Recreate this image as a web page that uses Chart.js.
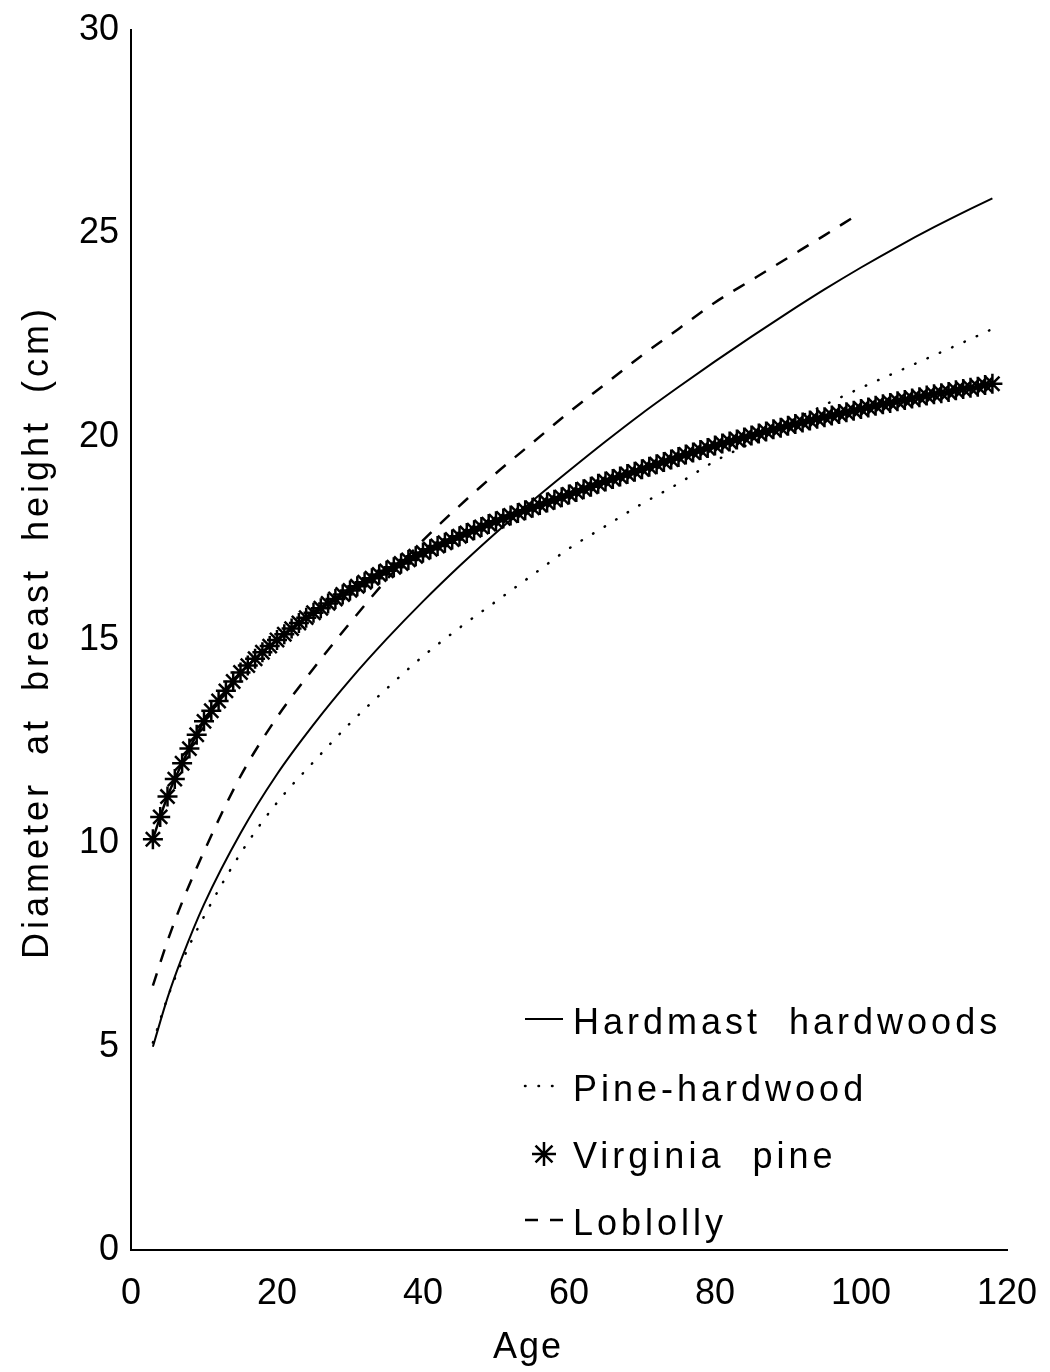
<!DOCTYPE html>
<html>
<head>
<meta charset="utf-8">
<script src="https://cdn.jsdelivr.net/npm/chart.js@4.4.1/dist/chart.umd.min.js"></script>
<style>
  html, body { margin: 0; padding: 0; background: #fff; }
  #wrap { width: 1050px; height: 1372px; }
</style>
</head>
<body>
<div id="wrap"><canvas id="myChart" width="1050" height="1372"></canvas></div>
<script>
// ages (years) and DBH (cm)
var curveAges = [3, 5, 7, 10, 15, 20, 25, 30, 35, 40, 45, 50, 55, 60, 65, 70, 75, 80, 85, 90, 95, 100, 105, 110, 115, 118];
var hardmastDbh = [5.0, 6.2, 7.2, 8.5, 10.25, 11.7, 12.92, 14.02, 15.02, 15.95, 16.82, 17.64, 18.42, 19.16, 19.88, 20.57, 21.22, 21.85, 22.46, 23.05, 23.62, 24.16, 24.67, 25.15, 25.6, 25.86];
var pineHardDbh = [5.1, 6.2, 7.1, 8.2, 9.75, 11.0, 12.0, 12.95, 13.8, 14.6, 15.3, 15.95, 16.6, 17.25, 17.8, 18.35, 18.85, 19.4, 19.85, 20.35, 20.78, 21.2, 21.6, 22.0, 22.4, 22.65];

var loblollyAges = [3, 5, 7, 10, 15, 20, 25, 30, 35, 40, 45, 50, 55, 60, 65, 70, 75, 80, 85, 90, 95, 99];
var loblollyDbh = [6.5, 7.6, 8.55, 9.8, 11.65, 13.1, 14.3, 15.42, 16.48, 17.45, 18.3, 19.1, 19.85, 20.6, 21.3, 22.0, 22.65, 23.3, 23.85, 24.4, 24.95, 25.4];

var virginiaAges = [3, 4, 5, 6, 7, 8, 9, 10, 11, 12, 13, 14, 15, 16, 17, 18, 19, 20,
  21, 22, 23, 24, 25, 26, 27, 28, 29, 30, 31, 32, 33, 34, 35, 36, 37, 38, 39, 40,
  41, 42, 43, 44, 45, 46, 47, 48, 49, 50, 51, 52, 53, 54, 55, 56, 57, 58, 59, 60,
  61, 62, 63, 64, 65, 66, 67, 68, 69, 70, 71, 72, 73, 74, 75, 76, 77, 78, 79, 80,
  81, 82, 83, 84, 85, 86, 87, 88, 89, 90, 91, 92, 93, 94, 95, 96, 97, 98, 99, 100,
  101, 102, 103, 104, 105, 106, 107, 108, 109, 110, 111, 112, 113, 114, 115, 116, 117, 118];
var virginiaDbh = [10.10, 10.65, 11.15, 11.58, 11.97, 12.33, 12.67, 13.00, 13.26, 13.50, 13.75, 13.98, 14.20, 14.37, 14.54, 14.70, 14.85, 15.00,
  15.14, 15.28, 15.42, 15.55, 15.67, 15.78, 15.90, 16.01, 16.12, 16.22, 16.32, 16.42, 16.52, 16.61, 16.70, 16.79, 16.88, 16.97, 17.06, 17.15,
  17.23, 17.31, 17.39, 17.47, 17.55, 17.63, 17.70, 17.78, 17.85, 17.92, 17.99, 18.06, 18.12, 18.19, 18.25, 18.32, 18.38, 18.45, 18.51, 18.58,
  18.64, 18.71, 18.77, 18.84, 18.90, 18.96, 19.02, 19.08, 19.14, 19.20, 19.26, 19.32, 19.38, 19.44, 19.50, 19.56, 19.61, 19.67, 19.72, 19.78,
  19.83, 19.88, 19.93, 19.98, 20.03, 20.08, 20.13, 20.18, 20.22, 20.27, 20.31, 20.35, 20.40, 20.44, 20.48, 20.52, 20.56, 20.60, 20.64, 20.68,
  20.72, 20.76, 20.80, 20.83, 20.87, 20.90, 20.94, 20.97, 21.01, 21.04, 21.07, 21.10, 21.14, 21.17, 21.20, 21.23, 21.27, 21.30];

var xTicks = [0, 20, 40, 60, 80, 100, 120];
var yTicks = [0, 5, 10, 15, 20, 25, 30];

var seriesNames = ["Hardmast hardwoods", "Pine-hardwood", "Virginia pine", "Loblolly"];

var toPoints = function (xs, ys) {
  return xs.map(function (x, i) { return { x: x, y: ys[i] }; });
};

var FONT = '"Liberation Sans", Arial, sans-serif';

// axis titles and the legend box that sits inside the plot
var extrasPlugin = {
  id: 'extras',
  afterDraw: function (chart) {
    var ctx = chart.ctx;
    ctx.save();
    ctx.fillStyle = '#000';
    ctx.strokeStyle = '#000';
    ctx.font = '36px ' + FONT;
    ctx.textBaseline = 'middle';

    // x title
    ctx.textAlign = 'center';
    ctx.letterSpacing = '2px';
    ctx.fillText('Age', 528, 1348);

    // y title
    ctx.save();
    ctx.translate(38, 632);
    ctx.rotate(-Math.PI / 2);
    ctx.letterSpacing = '4px';
    ctx.wordSpacing = '12px';
    ctx.fillText('Diameter at breast height (cm)', 0, 0);
    ctx.restore();

    // legend
    var rowY = [1024, 1091, 1158, 1225];
    var sx = 525, ex = 563, tx = 573;
    ctx.textAlign = 'left';
    ctx.letterSpacing = '4px';
    ctx.wordSpacing = '14px';
    chart.data.datasets.forEach(function (ds, i) {
      var y = rowY[i];
      ctx.save();
      ctx.lineWidth = ds.borderWidth;
      ctx.lineCap = ds.borderCapStyle || 'butt';
      ctx.setLineDash(ds.borderDash || []);
      if (ds.pointRadius > 0) {
        Chart.helpers.drawPoint(ctx, { pointStyle: ds.pointStyle, radius: 12, borderWidth: 2 }, (sx + ex) / 2, y - 4);
      } else {
        ctx.beginPath();
        ctx.moveTo(sx, y - 5);
        ctx.lineTo(ex, y - 5);
        ctx.stroke();
      }
      ctx.restore();
      ctx.fillText(ds.label, tx, y);
    });
    ctx.restore();
  }
};

var ctx = document.getElementById("myChart");
var myChart = new Chart(ctx, {
  type: 'line',
  data: {
    datasets: [{
      label: seriesNames[0],
      data: toPoints(curveAges, hardmastDbh),
      borderColor: "#000",
      borderWidth: 2,
      pointRadius: 0,
      cubicInterpolationMode: 'monotone',
      fill: false
    }, {
      label: seriesNames[1],
      data: toPoints(curveAges, pineHardDbh),
      borderColor: "#000",
      borderWidth: 2.5,
      borderDash: [0.5, 13],
      borderCapStyle: 'round',
      pointRadius: 0,
      cubicInterpolationMode: 'monotone',
      fill: false
    }, {
      label: seriesNames[2],
      data: toPoints(virginiaAges, virginiaDbh),
      borderColor: "#000",
      borderWidth: 2.5,
      pointStyle: 'star',
      pointRadius: 10,
      pointBorderWidth: 2.5,
      pointBorderColor: "#000",
      pointBackgroundColor: "#000",
      cubicInterpolationMode: 'monotone',
      fill: false
    }, {
      label: seriesNames[3],
      data: toPoints(loblollyAges, loblollyDbh),
      borderColor: "#000",
      borderWidth: 2.5,
      borderDash: [13, 12],
      pointRadius: 0,
      cubicInterpolationMode: 'monotone',
      fill: false
    }]
  },
  options: {
    responsive: false,
    animation: false,
    layout: { padding: { top: 30, right: 43, bottom: 0, left: 0 } },
    plugins: {
      legend: { display: false },
      tooltip: { enabled: false }
    },
    scales: {
      x: {
        type: 'linear',
        min: 0,
        max: 120,
        grid: { display: false, drawTicks: false },
        border: { display: true, color: '#000', width: 2 },
        afterFit: function (s) { s.height = 122; s.paddingLeft = 0; s.paddingRight = 0; },
        afterBuildTicks: function (s) { s.ticks = xTicks.map(function (v) { return { value: v }; }); },
        ticks: {
          color: '#000',
          padding: 22,
          maxRotation: 0,
          autoSkip: false,
          font: { family: FONT, size: 36 }
        }
      },
      y: {
        type: 'linear',
        min: 0,
        max: 30,
        grid: { display: false, drawTicks: false },
        border: { display: true, color: '#000', width: 2 },
        afterFit: function (s) { s.width = 131; s.paddingTop = 0; s.paddingBottom = 0; },
        afterBuildTicks: function (s) { s.ticks = yTicks.map(function (v) { return { value: v }; }); },
        ticks: {
          color: '#000',
          padding: 12,
          autoSkip: false,
          font: { family: FONT, size: 36 }
        }
      }
    }
  },
  plugins: [extrasPlugin]
});
</script>
</body>
</html>
